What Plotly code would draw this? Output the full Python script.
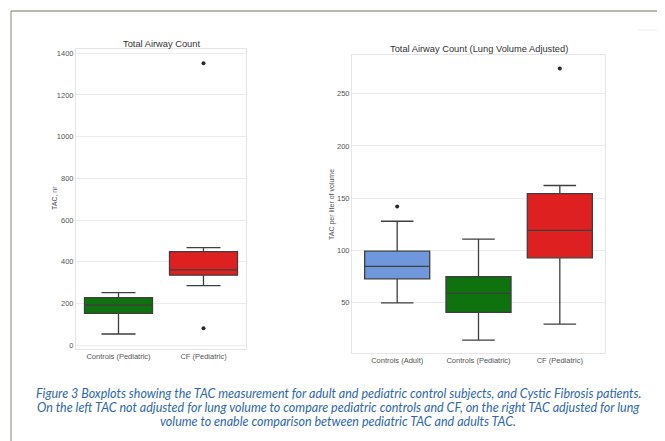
import plotly.graph_objects as go

W, H = 665, 441
OFF = 8  # page body margin
FW, FH = W - OFF, H - OFF

# ---- Left panel data (Total Airway Count) ----
left_cats = ["Controls (Pediatric)", "CF (Pediatric)"]
left_low = [54, 286]
left_q1 = [153, 336]
left_med = [193, 361]
left_q3 = [228, 449]
left_high = [252, 468]
left_colors = ["#0e720e", "#df2020"]
left_out_cats = ["CF (Pediatric)", "CF (Pediatric)"]
left_out_vals = [1352, 82]
left_ticks = [0, 200, 400, 600, 800, 1000, 1200, 1400]

# ---- Right panel data (Lung Volume Adjusted) ----
right_cats = ["Controls (Adult)", "Controls (Pediatric)", "CF (Pediatric)"]
right_low = [50, 14.4, 29.7]
right_q1 = [72.9, 40.8, 93]
right_med = [84.8, 59, 119.2]
right_q3 = [99.4, 74.9, 154.5]
right_high = [128, 110.9, 162.2]
right_colors = ["#6f98dc", "#0e720e", "#df2020"]
right_out_cats = ["Controls (Adult)", "CF (Pediatric)"]
right_out_vals = [142, 274]
right_ticks = [50, 100, 150, 200, 250]

caption_lines = [
    "Figure 3 Boxplots showing the TAC measurement for adult and pediatric control subjects, and Cystic Fibrosis patients.",
    "On the left TAC not adjusted for lung volume to compare pediatric controls and CF, on the right TAC adjusted for lung",
    "volume to enable comparison between pediatric TAC and adults TAC.",
]
caption_y = [393, 407, 421]

fig = go.Figure()
edge = "#3f3f3f"

for i, c in enumerate(left_cats):
    fig.add_trace(go.Box(
        x=[c], q1=[left_q1[i]], median=[left_med[i]], q3=[left_q3[i]],
        lowerfence=[left_low[i]], upperfence=[left_high[i]],
        fillcolor=left_colors[i], line=dict(color=edge, width=1.3),
        width=0.8, whiskerwidth=0.5, xaxis="x", yaxis="y", showlegend=False,
        hoverinfo="skip", boxpoints=False))
fig.add_trace(go.Scatter(x=left_out_cats, y=left_out_vals, mode="markers",
                         marker=dict(color="#2a2a2a", size=4), xaxis="x", yaxis="y",
                         showlegend=False))

for i, c in enumerate(right_cats):
    fig.add_trace(go.Box(
        x=[c], q1=[right_q1[i]], median=[right_med[i]], q3=[right_q3[i]],
        lowerfence=[right_low[i]], upperfence=[right_high[i]],
        fillcolor=right_colors[i], line=dict(color=edge, width=1.3),
        width=0.8, whiskerwidth=0.5, xaxis="x2", yaxis="y2", showlegend=False,
        hoverinfo="skip", boxpoints=False))
fig.add_trace(go.Scatter(x=right_out_cats, y=right_out_vals, mode="markers",
                         marker=dict(color="#2a2a2a", size=4), xaxis="x2", yaxis="y2",
                         showlegend=False))

def px(x):
    return (x - OFF) / FW

def py(y):
    return 1 - (y - OFF) / FH

tickfont = dict(family="Liberation Sans, Arial", size=7.5, color="#555555")
axcommon = dict(showline=True, linecolor="#e6e6e6", linewidth=1, mirror=True,
                gridcolor="#ececec", gridwidth=1, zeroline=False, ticks="",
                tickfont=tickfont, fixedrange=True)

annotations = [
    dict(text="Total Airway Count", x=px(161), y=py(44)),
    dict(text="Total Airway Count (Lung Volume Adjusted)", x=px(479), y=py(49)),
]
for a in annotations:
    a.update(xref="paper", yref="paper", xanchor="center", yanchor="middle", showarrow=False,
             font=dict(family="Liberation Sans, Arial", size=9.3, color="#333333"))
annotations += [
    dict(text="TAC, nr", x=px(54), y=py(198), xref="paper", yref="paper", textangle=-90,
         xanchor="center", yanchor="middle", showarrow=False,
         font=dict(family="Liberation Sans, Arial", size=7, color="#555555")),
    dict(text="TAC per liter of volume", x=px(332), y=py(205), xref="paper", yref="paper", textangle=-90,
         xanchor="center", yanchor="middle", showarrow=False,
         font=dict(family="Liberation Sans, Arial", size=7, color="#555555")),
]
for line, yy in zip(caption_lines, caption_y):
    annotations.append(dict(text="<i>" + line + "</i>", x=px(338), y=py(yy), xref="paper", yref="paper",
                            xanchor="center", yanchor="middle", showarrow=False,
                            font=dict(family="Lato, Carlito, sans-serif", size=12.5, color="#2e67b1")))

fig.update_layout(
    width=FW, height=FH, margin=dict(l=0, r=0, t=0, b=0),
    paper_bgcolor="white", plot_bgcolor="white",
    boxmode="overlay", boxgap=0.2,
    xaxis=dict(domain=[px(76), px(246)], anchor="y", categoryorder="array",
               categoryarray=left_cats, showgrid=False, **axcommon),
    yaxis=dict(domain=[py(349), py(49)], anchor="x", range=[-18, 1420],
               tickvals=left_ticks, **axcommon),
    xaxis2=dict(domain=[px(352), px(605)], anchor="y2", categoryorder="array",
                categoryarray=right_cats, showgrid=False, **axcommon),
    yaxis2=dict(domain=[py(353), py(55)], anchor="x2", range=[2, 287],
                tickvals=right_ticks, **axcommon),
    shapes=[
        dict(type="line", xref="paper", yref="paper", x0=px(11), x1=1, y0=py(11), y1=py(11),
             line=dict(color="#a3a390", width=1.3)),
        dict(type="line", xref="paper", yref="paper", x0=px(11), x1=px(11), y0=py(11), y1=0,
             line=dict(color="#a3a390", width=1.3)),
        dict(type="line", xref="paper", yref="paper", x0=px(638), x1=1, y0=py(30), y1=py(30),
             line=dict(color="#ececec", width=1)),
    ],
    annotations=annotations,
)

fig.write_html("out.html")
